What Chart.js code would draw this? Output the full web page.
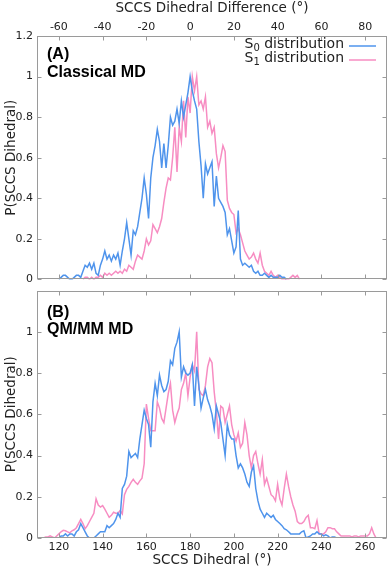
<!DOCTYPE html>
<html>
<head>
<meta charset="utf-8">
<script src="https://cdn.jsdelivr.net/npm/chart.js@4.4.1/dist/chart.umd.min.js"></script>
<style>
  html, body { margin: 0; padding: 0; background: #fff; }
  #wrap { position: relative; width: 392px; height: 569px; overflow: hidden; }
  #topChart { position: absolute; left: 0; top: 0; }
  #bottomChart { position: absolute; left: 0; top: 280px; }
</style>
</head>
<body>
<div id="wrap">
  <canvas id="topChart" width="392" height="290"></canvas>
  <canvas id="bottomChart" width="392" height="289"></canvas>
</div>
<script>
// tick labels
const dihedralTicks = [120, 140, 160, 180, 200, 220, 240, 260];
const differenceTicks = [-60, -40, -20, 0, 20, 40, 60, 80];
const probTicks = [0, 0.2, 0.4, 0.6, 0.8, 1, 1.2];

// (A) classical MD, 1 degree bins
const classicalAngles = [
  120,121,122,123,124,125,126,127,128,129,
  130,131,132,133,134,135,136,137,138,139,
  140,141,142,143,144,145,146,147,148,149,
  150,151,152,153,154,155,156,157,158,159,
  160,161,162,163,164,165,166,167,168,169,
  170,171,172,173,174,175,176,177,178,179,
  180,181,182,183,184,185,186,187,188,189,
  190,191,192,193,194,195,196,197,198,199,
  200,201,202,203,204,205,206,207,208,209,
  210,211,212,213,214,215,216,217,218,219,
  220,221,222,223,224,225,226,227,228,229,230
];
const classicalS0 = [
  0,0.01,0.02,0.02,0.01,0,0,0.01,0.02,0.02,
  0.01,0.04,0.07,0.06,0.08,0.05,0.08,0.03,0.02,0.07,
  0.10,0.14,0.10,0.12,0.09,0.12,0.10,0.13,0.07,0.14,
  0.20,0.28,0.20,0.12,0.24,0.22,0.26,0.33,0.40,0.50,
  0.42,0.30,0.50,0.60,0.66,0.74,0.68,0.55,0.67,0.55,
  0.66,0.80,0.76,0.78,0.84,0.77,0.88,0.80,0.86,0.92,
  1.0,0.93,0.88,0.84,0.68,0.56,0.40,0.57,0.52,0.55,
  0.58,0.36,0.51,0.40,0.38,0.36,0.33,0.22,0.25,0.19,
  0.13,0.16,0.34,0.10,0.07,0.08,0.07,0.06,0.07,0.04,
  0.03,0.04,0.02,0.02,0.03,0.02,0.01,0.02,0.01,0.01,
  0.01,0.02,0.01,0.01,0,null,null,null,null,null,null
];
const classicalS1 = [
  null,null,null,null,null,null,null,null,null,null,
  null,0,0.01,0.01,0,0.01,0,0.01,0.01,0.02,
  0.01,0.03,0.02,0.03,0.02,0.03,0.04,0.03,0.04,0.03,
  0.05,0.04,0.07,0.06,0.05,0.09,0.12,0.11,0.10,0.14,
  0.20,0.17,0.19,0.27,0.25,0.23,0.26,0.30,0.38,0.45,
  0.50,0.49,0.60,0.75,0.53,0.75,0.68,0.88,0.70,0.90,
  0.82,1.0,0.93,1.0,0.86,0.88,0.84,0.90,0.75,0.78,
  0.72,0.75,0.62,0.55,0.60,0.66,0.63,0.39,0.35,0.33,
  0.32,0.23,0.25,0.22,0.18,0.14,0.12,0.10,0.11,0.13,
  0.10,0.08,0.13,0.07,0.04,0.03,0.02,0.04,0.02,0.01,
  0.02,0.01,0,0,0,0,0.01,0.02,0.01,0.02,0
];

// (B) QM/MM MD
const qmmmAngles = [
  113,114,115,116,117,118,119,120,121,122,
  123,124,125,126,127,128,129,130,131,132,
  133,134,135,136,137,138,139,140,141,142,
  143,144,145,146,147,148,149,150,151,152,
  153,154,155,156,157,158,159,160,161,162,
  163,164,165,166,167,168,169,170,171,172,
  173,174,175,176,177,178,179,180,181,182,
  183,184,185,186,187,188,189,190,191,192,
  193,194,195,196,197,198,199,200,201,202,
  203,204,205,206,207,208,209,210,211,212,
  213,214,215,216,217,218,219,220,221,222,
  223,224,225,226,227,228,229,230,231,232,
  233,234,235,236,237,238,239,240,241,242,
  243,244,245,246,247,248,249,250,251,252,
  253,254,255,256,257,258,259,260,261,262,
  263,264,265
];
const qmmmS0 = [
  0,0,0,0,0,0,0,0,0.01,0.01,
  0.02,0.01,0.02,0.02,0.01,0.03,0.04,0.07,0.05,0.03,
  0.01,0,0,0,0.01,0.02,0.03,0.03,0.03,0.06,
  0.05,0.06,0.07,0.09,0.12,0.10,0.24,0.26,0.30,0.42,
  0.39,0.40,0.41,0.39,0.48,0.55,0.62,0.58,0.55,0.44,
  0.66,0.75,0.69,0.79,0.74,0.71,0.72,0.76,0.86,0.84,
  0.92,0.95,1.0,0.78,0.83,0.80,0.79,0.80,0.84,0.64,
  0.83,0.74,0.63,0.68,0.72,0.67,0.64,0.60,0.53,0.64,
  0.60,0.56,0.48,0.40,0.55,0.50,0.48,0.48,0.40,0.34,
  0.36,0.34,0.31,0.27,0.25,0.32,0.35,0.24,0.18,0.14,
  0.12,0.10,0.12,0.11,0.10,0.11,0.09,0.08,0.07,0.06,
  0.045,0.04,0.03,0.02,0.02,0.02,0.02,0.02,0.03,0.035,
  0,0.005,0.01,0.02,0.02,0.03,0.02,0.02,0.01,0.015,
  0.01,0,0.005,0.005,0,0,0,0,0,0,
  0,0,0,0,0,0,0,0,0,0,
  0,0,0
];
const qmmmS1 = [
  0,0.005,0.005,0.01,0.005,0,0.01,0.02,0.03,0.037,
  0.035,0.03,0.025,0.035,0.04,0.05,0.07,0.09,0.07,0.045,
  0.06,0.08,0.10,0.12,0.19,0.16,0.15,0.157,0.14,0.12,
  0.10,0.11,0.125,0.12,0.12,0.133,0.117,0.21,0.236,0.25,
  0.27,0.285,0.27,0.26,0.277,0.29,0.36,0.65,0.58,0.52,
  0.52,0.52,0.66,0.63,0.58,0.56,0.63,0.70,0.75,0.62,
  0.56,0.60,0.63,0.72,0.75,0.80,0.69,0.78,0.84,0.81,
  1.0,0.72,0.70,0.69,0.74,0.83,0.87,0.85,0.71,0.61,
  0.48,0.64,0.63,0.56,0.60,0.64,0.55,0.50,0.47,0.51,
  0.44,0.46,0.56,0.50,0.40,0.34,0.40,0.42,0.36,0.31,
  0.38,0.26,0.29,0.25,0.21,0.20,0.18,0.26,0.19,0.16,
  0.24,0.31,0.25,0.20,0.16,0.13,0.08,0.07,0.07,0.08,
  0.10,0.11,0.05,0.05,0.045,0.085,0.02,0.02,0.02,0.03,
  0.05,0.05,0.045,0.045,0.03,0.02,0.01,0.01,0.01,0.01,
  0.01,0.005,0.01,0.01,0.005,0.01,0.01,0.01,0.01,0.02,
  0.05,0.02,0
];

const S0_COLOR = '#4f94ec';
const S1_COLOR = '#f78dc2';
const TEXT = '#222';
const FRAME = '#9a9a9a';

Chart.defaults.font.family = "'DejaVu Sans', sans-serif";

const useTicks = values => scale => { scale.ticks = values.map(v => ({value: v})); };
const fixHeight = h => scale => { scale.height = h; };
const fixWidth = w => scale => { scale.width = w; };
// bottom panel does not print its 1.2
const yLabel = v => v === 1.2 ? '' : String(v);
const yLabelTop = v => String(v);

const toPoints = (xs, ys) => xs.map((x, i) => ({x: x, y: ys[i]}));

// border box + inward ticks, gnuplot style
const framePlugin = {
  id: 'frame',
  afterDraw(chart) {
    const {ctx, chartArea: a, scales} = chart;
    const L = Math.round(a.left) + 0.5, R = Math.round(a.right) - 0.5;
    const T = Math.round(a.top) + 0.5, B = Math.round(a.bottom) - 0.5;
    ctx.save();
    ctx.strokeStyle = FRAME;
    ctx.lineWidth = 1;
    ctx.strokeRect(L, T, R - L, B - T);
    ctx.beginPath();
    scales.x.ticks.forEach(t => {
      const px = Math.round(scales.x.getPixelForValue(t.value)) + 0.5;
      ctx.moveTo(px, B); ctx.lineTo(px, B - 4);
      ctx.moveTo(px, T); ctx.lineTo(px, T + 4);
    });
    scales.y.ticks.forEach(t => {
      const py = Math.round(scales.y.getPixelForValue(t.value)) + 0.5;
      ctx.moveTo(L, py); ctx.lineTo(L + 4, py);
      ctx.moveTo(R, py); ctx.lineTo(R - 4, py);
    });
    ctx.stroke();
    ctx.restore();
  }
};

// "(A)" / "Classical MD" tags
const tagPlugin = {
  id: 'tag',
  afterDraw(chart, args, opts) {
    if (!opts.lines) return;
    const {ctx, chartArea: a} = chart;
    ctx.save();
    ctx.fillStyle = '#000';
    ctx.font = "bold 16px 'Liberation Sans', Arial, sans-serif";
    ctx.textBaseline = 'alphabetic';
    opts.lines.forEach((txt, i) => ctx.fillText(txt, a.left + 10, a.top + opts.baselines[i]));
    ctx.restore();
  }
};

// key with S_n subscripts, sample line right of the text
const keyPlugin = {
  id: 'key',
  afterDraw(chart, args, opts) {
    if (!opts.show) return;
    const {ctx, chartArea: a} = chart;
    ctx.save();
    ctx.fillStyle = TEXT;
    ctx.textBaseline = 'alphabetic';
    chart.data.datasets.forEach((ds, i) => {
      const base = a.top + 12 + i * 14;
      const big = "14px 'DejaVu Sans', sans-serif";
      const small = "10px 'DejaVu Sans', sans-serif";
      ctx.font = big;
      const wS = ctx.measureText('S').width;
      const wRest = ctx.measureText(' distribution').width;
      ctx.font = small;
      const wSub = ctx.measureText(ds.state).width;
      let x = a.right - 43 - (wS + wSub + wRest);
      ctx.font = big;
      ctx.fillText('S', x, base);
      x += wS;
      ctx.font = small;
      ctx.fillText(ds.state, x, base + 3);
      x += wSub;
      ctx.font = big;
      ctx.fillText(' distribution', x, base);
      ctx.strokeStyle = ds.borderColor;
      ctx.lineWidth = 1.5;
      ctx.beginPath();
      ctx.moveTo(a.right - 38, base - 2);
      ctx.lineTo(a.right - 11, base - 2);
      ctx.stroke();
    });
    ctx.restore();
  }
};

const lineSet = (label, state, color, pts) => ({
  label: label,
  state: state,
  data: pts,
  borderColor: color,
  backgroundColor: color,
  borderWidth: 1.5,
  pointRadius: 0,
  tension: 0,
  spanGaps: false,
  xAxisID: 'x'
});

const yScale = (cb) => ({
  min: 0,
  max: 1.2,
  afterBuildTicks: useTicks(probTicks),
  afterFit: fixWidth(37),
  ticks: {callback: cb, font: {size: 11}, color: TEXT, padding: 4, autoSkip: false},
  grid: {display: false, drawTicks: false},
  border: {display: false},
  title: {display: true, text: 'P(SCCS Dihedral)', font: {size: 13.5}, color: TEXT, padding: {top: 3, bottom: 0}}
});

const setup = () => {
  new Chart(document.getElementById('topChart'), {
    type: 'line',
    data: {
      datasets: [
        lineSet('S0 distribution', '0', S0_COLOR, toPoints(classicalAngles, classicalS0)),
        lineSet('S1 distribution', '1', S1_COLOR, toPoints(classicalAngles, classicalS1))
      ]
    },
    options: {
      responsive: false,
      animation: false,
      layout: {padding: {left: 0, right: 5, top: 0, bottom: 0}},
      plugins: {
        legend: {display: false},
        tooltip: {enabled: false},
        tag: {lines: ['(A)', 'Classical MD'], baselines: [23, 41]},
        key: {show: true}
      },
      scales: {
        x: {
          type: 'linear', position: 'bottom', min: 110, max: 270,
          afterBuildTicks: useTicks(dihedralTicks), afterFit: fixHeight(3),
          ticks: {display: false},
          grid: {display: false, drawTicks: false},
          border: {display: false}
        },
        xDiff: {
          type: 'linear', position: 'top', min: -70, max: 90,
          afterBuildTicks: useTicks(differenceTicks), afterFit: fixHeight(36),
          ticks: {font: {size: 11}, color: TEXT, padding: 2, maxRotation: 0, autoSkip: false},
          grid: {display: false, drawTicks: false},
          border: {display: false},
          title: {display: true, text: 'SCCS Dihedral Difference (°)', font: {size: 13.5}, color: TEXT, padding: {top: 0, bottom: 0}}
        },
        y: yScale(yLabelTop)
      }
    },
    plugins: [framePlugin, tagPlugin, keyPlugin]
  });

  new Chart(document.getElementById('bottomChart'), {
    type: 'line',
    data: {
      datasets: [
        lineSet('S0 distribution', '0', S0_COLOR, toPoints(qmmmAngles, qmmmS0)),
        lineSet('S1 distribution', '1', S1_COLOR, toPoints(qmmmAngles, qmmmS1))
      ]
    },
    options: {
      responsive: false,
      animation: false,
      layout: {padding: {left: 0, right: 5, top: 7, bottom: 0}},
      plugins: {
        legend: {display: false},
        tooltip: {enabled: false},
        tag: {lines: ['(B)', 'QM/MM MD'], baselines: [26, 43]},
        key: {show: false}
      },
      scales: {
        x: {
          type: 'linear', position: 'bottom', min: 110, max: 270,
          afterBuildTicks: useTicks(dihedralTicks), afterFit: fixHeight(31),
          ticks: {font: {size: 11}, color: TEXT, padding: 3, maxRotation: 0, autoSkip: false},
          grid: {display: false, drawTicks: false},
          border: {display: false},
          title: {display: true, text: 'SCCS Dihedral (°)', font: {size: 13.5}, color: TEXT, padding: {top: 0, bottom: 0}}
        },
        y: yScale(yLabel)
      }
    },
    plugins: [framePlugin, tagPlugin, keyPlugin]
  });
};

window.addEventListener('DOMContentLoaded', setup);
</script>
</body>
</html>
